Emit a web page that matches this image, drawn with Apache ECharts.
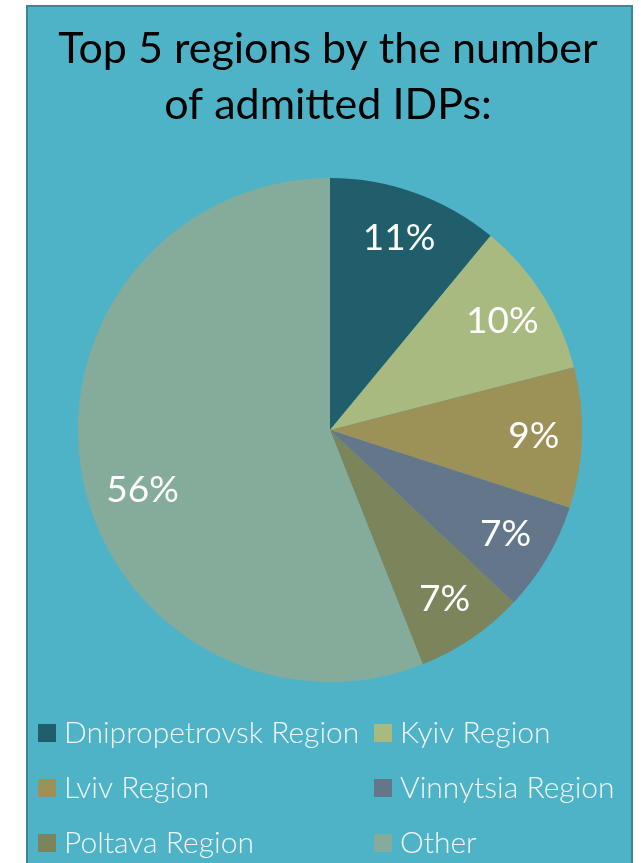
<!DOCTYPE html>
<html>
<head>
<meta charset="utf-8">
<script src="https://cdn.jsdelivr.net/npm/echarts@6/dist/echarts.min.js"></script>
<style>
  html, body { margin: 0; padding: 0; background: #ffffff; }
  #chart { width: 641px; height: 863px; }
</style>
</head>
<body>
<div id="chart"></div>
<script>
// Share of admitted IDPs by region (percent)
const regions = ['Dnipropetrovsk Region', 'Kyiv Region', 'Lviv Region', 'Vinnytsia Region', 'Poltava Region', 'Other'];
const shares = [11, 10, 9, 7, 7, 56];
const sliceColors = ['#215e6b', '#a8ba80', '#9c9157', '#647689', '#7b845b', '#85ac9b'];
const titleText = 'Top 5 regions by the number\nof admitted IDPs:';

const panelColor = '#4fb3c8';
const fontFamily = 'Lato, "Open Sans", sans-serif';

const chart = echarts.init(document.getElementById('chart'), null, { renderer: 'canvas' });

const pieData = regions.map((name, i) => ({
  name: name,
  value: shares[i],
  itemStyle: { color: sliceColors[i] }
}));

const legendText = {
  color: '#f2f6f7',
  fontFamily: fontFamily,
  fontSize: 30,
  fontWeight: 300,
  lineHeight: 30,
  padding: [0, 0, 0, 3]
};

const legendBase = {
  orient: 'vertical',
  top: 718,
  height: 160,
  padding: 0,
  itemWidth: 18, itemHeight: 18, itemGap: 25,
  icon: 'rect',
  textStyle: legendText,
  selectedMode: false
};

const option = {
  backgroundColor: '#ffffff',
  animation: false,
  graphic: [{
    type: 'rect',
    left: 26, top: 5,
    shape: { width: 605, height: 880 },
    style: { fill: panelColor, stroke: '#3c8797', lineWidth: 2 },
    z: -10
  }],
  title: {
    text: titleText,
    left: 323,
    top: 16,
    textAlign: 'center',
    textStyle: {
      color: '#000000',
      fontFamily: fontFamily,
      fontSize: 43,
      fontWeight: 'normal',
      lineHeight: 56
    }
  },
  legend: [
    Object.assign({}, legendBase, { left: 38, data: [regions[0], regions[2], regions[4]] }),
    Object.assign({}, legendBase, { left: 374, data: [regions[1], regions[3], regions[5]] })
  ],
  series: [{
    type: 'pie',
    center: [330, 430],
    radius: [0, 252],
    startAngle: 90,
    clockwise: true,
    data: pieData,
    label: { show: false },
    labelLine: { show: false },
    itemStyle: { borderWidth: 0 },
    emphasis: { disabled: true }
  }, {
    // transparent ring carrying the percentage labels at ~80% of the radius
    type: 'pie',
    center: [330, 430],
    radius: [150, 252],
    startAngle: 90,
    clockwise: true,
    silent: true,
    data: regions.map((name, i) => ({
      name: name,
      value: shares[i],
      label: i === regions.length - 1 ? { offset: [13, 22] } : undefined
    })),
    itemStyle: { color: 'rgba(0,0,0,0)', borderWidth: 0 },
    label: {
      show: true,
      position: 'inside',
      formatter: p => p.value + '%',
      color: '#ffffff',
      fontFamily: fontFamily,
      fontSize: 37
    },
    labelLine: { show: false },
    legendHoverLink: false,
    emphasis: { disabled: true }
  }]
};

chart.setOption(option);
</script>
</body>
</html>
